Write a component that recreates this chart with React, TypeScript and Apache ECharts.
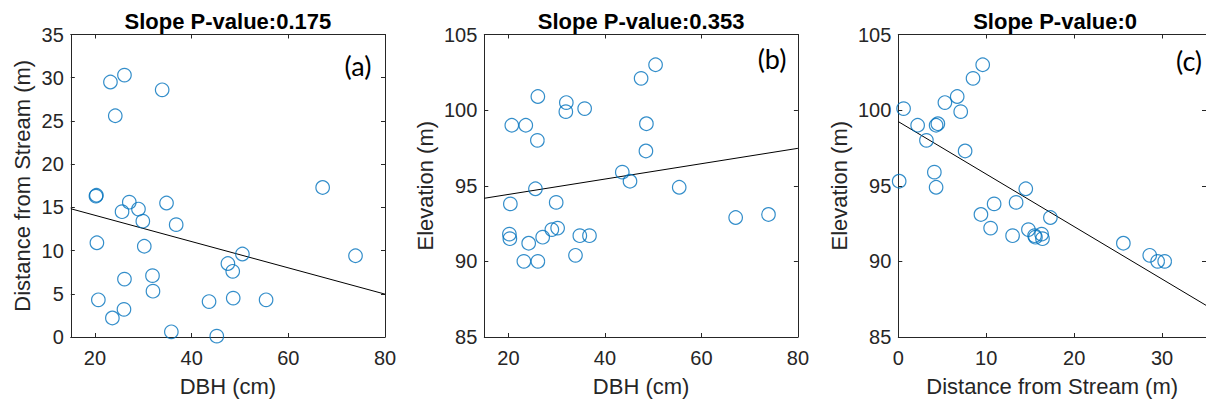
import React, { useEffect, useRef } from "react";
import * as echarts from "echarts";

// Tree measurements (same 30 trees in every panel)
const DBH = [50.5, 47.5, 26.1, 32.0, 31.9, 35.8, 20.7, 23.6, 48.6, 26.0, 48.5, 43.6, 45.2, 25.6, 55.4, 20.4, 29.9, 20.2, 20.3, 24.2, 27.1, 29.0, 30.2, 34.8, 36.8, 33.9, 23.2, 26.1, 67.1, 73.9];
const DIST = [9.6, 8.5, 6.7, 5.3, 7.1, 0.6, 4.3, 2.2, 4.5, 3.2, 7.6, 4.1, 0.1, 14.5, 4.3, 10.9, 13.4, 16.3, 16.4, 25.6, 15.6, 14.8, 10.5, 15.5, 13.0, 28.6, 29.5, 30.3, 17.3, 9.4];
const ELEV = [103.0, 102.1, 100.9, 100.5, 99.9, 100.1, 99.0, 99.0, 99.1, 98.0, 97.3, 95.9, 95.3, 94.8, 94.9, 93.8, 93.9, 91.8, 91.5, 91.2, 91.6, 92.1, 92.2, 91.7, 91.7, 90.4, 90.0, 90.0, 92.9, 93.1];

// Regression fits (intercept, slope) per panel
const FIT_INTERCEPT = [17.12, 93.41, 99.24];
const FIT_SLOPE = [-0.152, 0.0508, -0.347];

const TITLES = ["Slope P-value:0.175", "Slope P-value:0.353", "Slope P-value:0"];
const PANEL_LABELS = ["(a)", "(b)", "(c)"];
const X_NAMES = ["DBH (cm)", "DBH (cm)", "Distance from Stream (m)"];
const Y_NAMES = ["Distance from Stream (m)", "Elevation (m)", "Elevation (m)"];
const X_MIN = [15, 15, 0];
const X_MAX = [80, 80, 35];
const X_TICKS = [[20, 40, 60, 80], [20, 40, 60, 80], [0, 10, 20, 30]];
const Y_MIN = [0, 85, 85];
const Y_MAX = [35, 105, 105];
const Y_INTERVAL = [5, 5, 5];

const AXIS_COLOR = "#262626";
const MARK_COLOR = "#0072BD";
const FONT = "'Liberation Sans', Arial, Helvetica, sans-serif";

const GRIDS = [
  { left: 70.8, top: 34.5, width: 314.2, height: 303.8 },
  { left: 484.3, top: 34.5, width: 313.6, height: 303.8 },
  { left: 898.3, top: 34.5, width: 313.6, height: 303.8 },
];
const Y_NAME_GAP = [37, 48, 48];

export default function App() {
  const ref = useRef<HTMLDivElement>(null);
  useEffect(() => {
    if (!ref.current) return;
    const chart = echarts.init(ref.current, undefined, { renderer: "svg" });
    const xData = [DBH, DBH, DIST];
    const yData = [DIST, ELEV, ELEV];

    const xAxes: any[] = [];
    const yAxes: any[] = [];
    const series: any[] = [];
    const graphics: any[] = [];

    for (let i = 0; i < 3; i++) {
      const common = {
        gridIndex: i,
        type: "value",
        splitLine: { show: false },
        axisLine: { show: true, onZero: false, lineStyle: { color: AXIS_COLOR, width: 1 } },
      };
      xAxes.push({
        ...common,
        position: "bottom",
        min: X_MIN[i],
        max: X_MAX[i],
        axisTick: { show: true, inside: true, length: 4, customValues: X_TICKS[i], lineStyle: { color: AXIS_COLOR } },
        axisLabel: { show: true, customValues: X_TICKS[i], color: AXIS_COLOR, fontSize: 20, fontFamily: FONT, margin: 11 },
        name: X_NAMES[i],
        nameLocation: "middle",
        nameGap: 38,
        nameTextStyle: { color: AXIS_COLOR, fontSize: 22, fontFamily: FONT },
      });
      xAxes.push({
        ...common,
        position: "top",
        min: X_MIN[i],
        max: X_MAX[i],
        axisTick: { show: true, inside: true, length: 4, customValues: X_TICKS[i], lineStyle: { color: AXIS_COLOR } },
        axisLabel: { show: false, customValues: X_TICKS[i] },
      });
      yAxes.push({
        ...common,
        position: "left",
        min: Y_MIN[i],
        max: Y_MAX[i],
        interval: Y_INTERVAL[i],
        axisTick: { show: true, inside: true, length: 4, lineStyle: { color: AXIS_COLOR } },
        axisLabel: { show: true, color: AXIS_COLOR, fontSize: 20, fontFamily: FONT, margin: 7 },
        name: Y_NAMES[i],
        nameLocation: "middle",
        nameGap: Y_NAME_GAP[i],
        nameTextStyle: { color: AXIS_COLOR, fontSize: 22, fontFamily: FONT },
      });
      yAxes.push({
        ...common,
        position: "right",
        min: Y_MIN[i],
        max: Y_MAX[i],
        interval: Y_INTERVAL[i],
        axisTick: { show: true, inside: true, length: 4, lineStyle: { color: AXIS_COLOR } },
        axisLabel: { show: false },
      });

      series.push({
        type: "scatter",
        xAxisIndex: 2 * i,
        yAxisIndex: 2 * i,
        symbol: "circle",
        symbolSize: 13.5,
        itemStyle: { color: "rgba(0,0,0,0)", borderColor: MARK_COLOR, borderWidth: 1.2 },
        data: xData[i].map((x, k) => [x, yData[i][k]]),
        z: 3,
      });
      const x0 = X_MIN[i];
      const x1 = X_MAX[i];
      series.push({
        type: "line",
        xAxisIndex: 2 * i,
        yAxisIndex: 2 * i,
        symbol: "none",
        lineStyle: { color: "#000", width: 1 },
        data: [
          [x0, FIT_INTERCEPT[i] + FIT_SLOPE[i] * x0],
          [x1, FIT_INTERCEPT[i] + FIT_SLOPE[i] * x1],
        ],
        z: 2,
      });

      const g = GRIDS[i];
      graphics.push({
        type: "text",
        x: g.left + g.width / 2,
        y: 21,
        style: {
          text: TITLES[i],
          textAlign: "center",
          textVerticalAlign: "middle",
          fontSize: 22,
          fontWeight: "bold",
          fontFamily: FONT,
          fill: "#000",
        },
      });
    }

    const labelPos = [
      [358, 65],
      [772, 58],
      [1189, 60],
    ];
    for (let i = 0; i < 3; i++) {
      graphics.push({
        type: "text",
        x: labelPos[i][0],
        y: labelPos[i][1],
        style: {
          text: PANEL_LABELS[i],
          textAlign: "center",
          textVerticalAlign: "middle",
          fontSize: 27,
          fontFamily: "Lato, 'Open Sans', sans-serif",
          fill: "#000",
        },
      });
    }

    chart.setOption({
      animation: false,
      backgroundColor: "#fff",
      grid: GRIDS.map((g) => ({ ...g, containLabel: false })),
      xAxis: xAxes,
      yAxis: yAxes,
      series,
      graphic: graphics,
    });
    return () => chart.dispose();
  }, []);
  return (
    <div
      ref={ref}
      style={{ position: "absolute", left: 0, top: 0, width: 1206, height: 402 }}
    />
  );
}
